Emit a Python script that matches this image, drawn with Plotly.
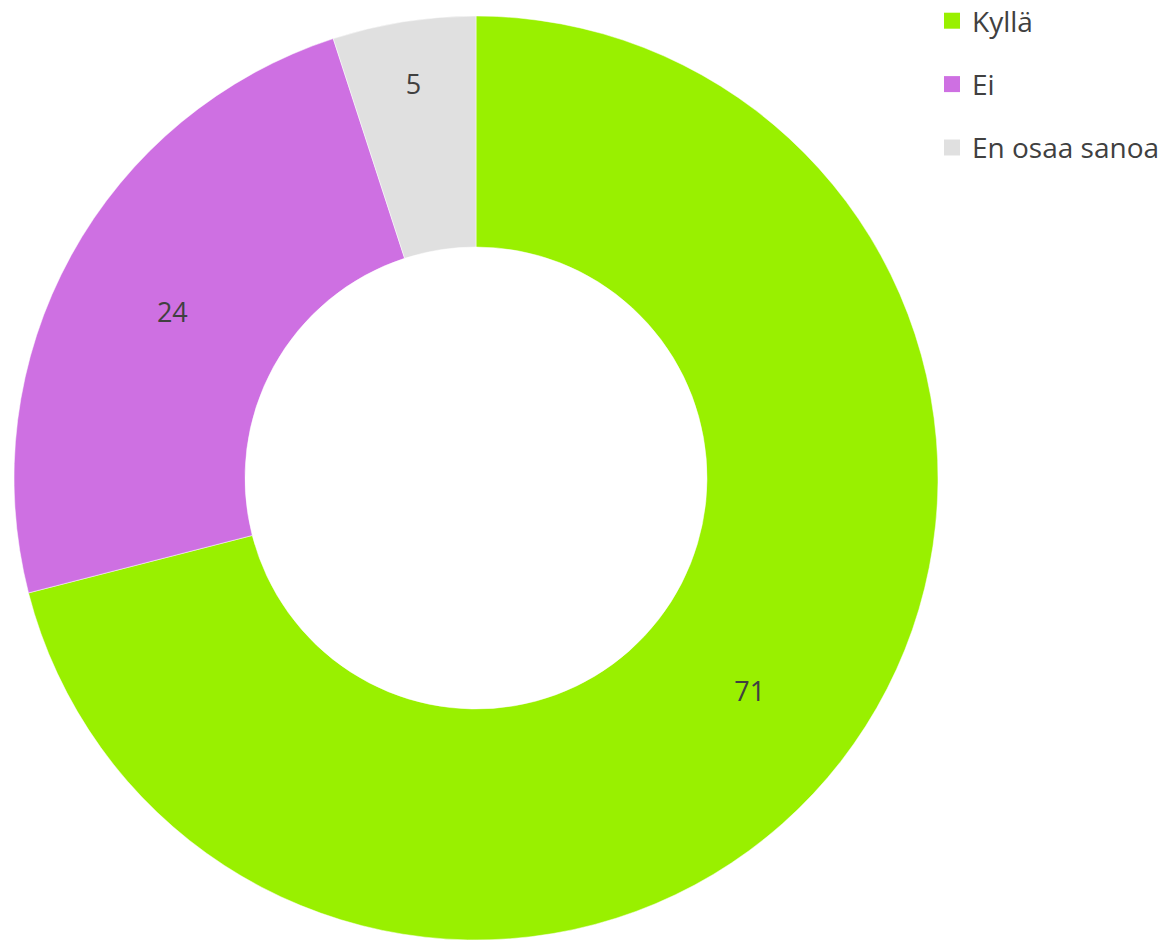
import plotly.graph_objects as go

labels = ["Kyllä", "Ei", "En osaa sanoa"]
values = [71, 24, 5]
colors = ["#99F000", "#CE70E2", "#E0E0E0"]

W, H = 1166, 945
off = 8  # page body margin
cx, cy, r = 476 - off, 478 - off, 462

fig = go.Figure()
fig.add_trace(go.Pie(
    labels=labels, values=values, hole=0.5, sort=False, direction="clockwise",
    rotation=0, marker=dict(colors=colors, line=dict(color="white", width=0.5)),
    textinfo="value", textposition="inside", insidetextorientation="horizontal",
    textfont=dict(family="Open Sans", size=27, color="#404040"),
    showlegend=False, hoverinfo="label+value",
    domain=dict(x=[(cx - r) / W, (cx + r) / W], y=[(H - cy - r) / H, (H - cy + r) / H]),
))
for lab, col in zip(labels, colors):
    fig.add_trace(go.Scatter(
        x=[None], y=[None], mode="markers", name=lab, legendgroup=lab,
        marker=dict(symbol="square", size=18, color=col), showlegend=True,
    ))

fig.update_layout(
    width=W, height=H, margin=dict(l=0, r=0, t=0, b=0, autoexpand=False),
    paper_bgcolor="white", plot_bgcolor="white",
    xaxis=dict(visible=False), yaxis=dict(visible=False),
    legend=dict(x=(944 - off - 12) / W, y=1.0 + 12 / H, xanchor="left", yanchor="top",
                tracegroupgap=24,
                font=dict(family="Open Sans", size=28, color="#404040"),
                itemwidth=30, bgcolor="rgba(0,0,0,0)"),
    font=dict(family="Open Sans"),
)
fig.write_html("out.html")
